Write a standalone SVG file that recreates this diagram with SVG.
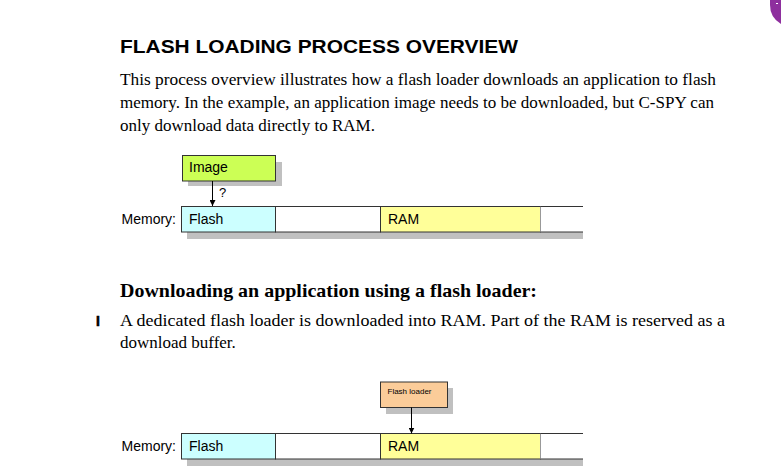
<svg xmlns="http://www.w3.org/2000/svg" width="781" height="467" viewBox="0 0 781 467">
<style>
.title{font-family:"Liberation Sans",Arial,sans-serif;font-weight:bold;font-size:17.5px;fill:#000}
.body{font-family:"Liberation Serif","Times New Roman",serif;font-size:17px;fill:#000}
.head{font-family:"Liberation Serif","Times New Roman",serif;font-weight:bold;font-size:19px;fill:#000}
.lbl{font-family:"Liberation Sans",Arial,sans-serif;font-size:14px;fill:#000}
.small{font-family:"Liberation Sans",Arial,sans-serif;font-size:8px;fill:#000}
.shadow{fill:#c0c0c0}
.box{stroke:#333;stroke-width:1}
.conn{stroke:#000;stroke-width:1;fill:none}
</style>
<defs>
<marker id="arr" viewBox="0 0 10 10" refX="10" refY="5" markerWidth="6" markerHeight="6" markerUnits="userSpaceOnUse" orient="auto">
<path d="M0,0 L10,5 L0,10 z" fill="#000"/>
</marker>
</defs>
<rect width="781" height="467" fill="#fff"/>
<path d="M770,0 L781,0 L781,24 A22,22 0 0 1 770,5 Z" fill="#8e2f9e"/>
<rect x="776" y="3" width="2" height="1" fill="#fff"/>

<text class="title" x="120" y="53" textLength="398" lengthAdjust="spacingAndGlyphs">FLASH LOADING PROCESS OVERVIEW</text>
<text class="body" x="120" y="85" textLength="596" lengthAdjust="spacingAndGlyphs">This process overview illustrates how a flash loader downloads an application to flash</text>
<text class="body" x="120" y="108" textLength="594" lengthAdjust="spacingAndGlyphs">memory. In the example, an application image needs to be downloaded, but C-SPY can</text>
<text class="body" x="120" y="131">only download data directly to RAM.</text>

<g id="memory1">
<rect class="shadow" x="187" y="212" width="396" height="27"/>
<rect x="181.5" y="206.5" width="94" height="25.5" fill="#ccffff" class="box"/>
<rect x="275.5" y="206.5" width="105" height="25.5" fill="#fff" class="box"/>
<rect x="380.5" y="206.5" width="160" height="25.5" fill="#ffff99" class="box"/>
<rect x="540.5" y="206.5" width="43" height="25.5" fill="#fff"/>
<path d="M540.5,206.5 H583 M540.5,232 H583" stroke="#333" stroke-width="1"/>
<text class="lbl" x="176" y="224" text-anchor="end">Memory:</text>
<text class="lbl" x="189" y="224">Flash</text>
<text class="lbl" x="388" y="224">RAM</text>
</g>

<g id="image">
<rect class="shadow" x="188" y="162" width="94" height="24"/>
<rect x="182.5" y="155.5" width="93" height="25.5" fill="#ccff55" class="box"/>
<text class="lbl" x="189" y="172">Image</text>
</g>

<g id="memory2">
<rect class="shadow" x="187" y="439" width="396" height="27"/>
<rect x="181.5" y="433.5" width="94" height="25.5" fill="#ccffff" class="box"/>
<rect x="275.5" y="433.5" width="105" height="25.5" fill="#fff" class="box"/>
<rect x="380.5" y="433.5" width="160" height="25.5" fill="#ffff99" class="box"/>
<rect x="540.5" y="433.5" width="43" height="25.5" fill="#fff"/>
<path d="M540.5,433.5 H583 M540.5,459 H583" stroke="#333" stroke-width="1"/>
<text class="lbl" x="176" y="451" text-anchor="end">Memory:</text>
<text class="lbl" x="189" y="451">Flash</text>
<text class="lbl" x="388" y="451">RAM</text>
</g>

<g id="flashloader">
<rect class="shadow" x="386" y="388" width="67" height="26"/>
<rect x="380.5" y="382" width="67" height="25.5" fill="#fbcc99" class="box"/>
<text class="small" x="387.5" y="393.5">Flash loader</text>
</g>

<g id="connectors">
<line class="conn" x1="212.5" y1="181" x2="212.5" y2="206" marker-end="url(#arr)"/>
<text class="lbl" x="219" y="197" style="font-size:13px">?</text>
<line class="conn" x1="411.5" y1="407.5" x2="411.5" y2="433.5" marker-end="url(#arr)"/>
</g>

<text class="head" x="120" y="297" textLength="417" lengthAdjust="spacingAndGlyphs">Downloading an application using a flash loader:</text>
<text x="96" y="326" style="font-family:'Liberation Sans',Arial,sans-serif;font-weight:900;font-size:14px;stroke:#000;stroke-width:0.6">I</text>
<text class="body" x="120" y="326" textLength="605" lengthAdjust="spacingAndGlyphs">A dedicated flash loader is downloaded into RAM. Part of the RAM is reserved as a</text>
<text class="body" x="120" y="348">download buffer.</text>
</svg>
